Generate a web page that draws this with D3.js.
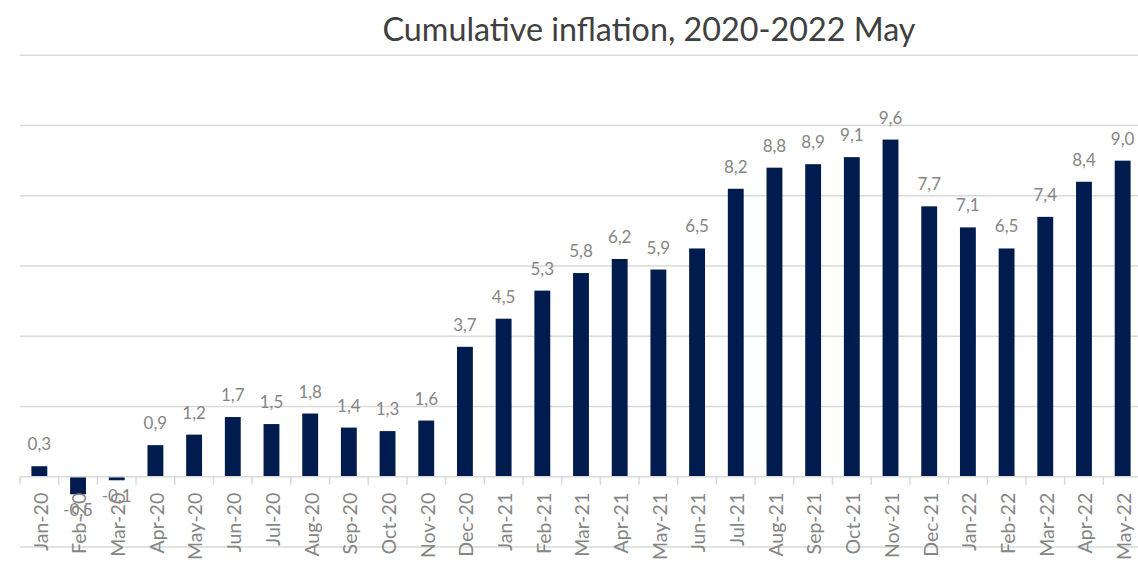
<!DOCTYPE html>
<html>
<head>
<meta charset="utf-8">
<script src="https://cdn.jsdelivr.net/npm/d3@7"></script>
<style>
  html, body { margin: 0; padding: 0; background: #ffffff; }
  svg { display: block; }
  text { font-family: Lato, "Open Sans", sans-serif; }
</style>
</head>
<body>
<svg id="chart" width="1138" height="562"></svg>
<script>
// Monthly categories, Jan 2020 – May 2022
const months = [
  "Jan-20","Feb-20","Mar-20","Apr-20","May-20","Jun-20","Jul-20","Aug-20","Sep-20","Oct-20","Nov-20","Dec-20",
  "Jan-21","Feb-21","Mar-21","Apr-21","May-21","Jun-21","Jul-21","Aug-21","Sep-21","Oct-21","Nov-21","Dec-21",
  "Jan-22","Feb-22","Mar-22","Apr-22","May-22"
];

// Cumulative inflation, %
const inflation = [
  0.3, -0.5, -0.1, 0.9, 1.2, 1.7, 1.5, 1.8, 1.4, 1.3, 1.6, 3.7,
  4.5, 5.3, 5.8, 6.2, 5.9, 6.5, 8.2, 8.8, 8.9, 9.1, 9.6, 7.7,
  7.1, 6.5, 7.4, 8.4, 9.0
];

// Value-axis gridline positions
const yTicks = [-2, 0, 2, 4, 6, 8, 10, 12];

const title = "Cumulative inflation, 2020-2022 May";

const data = months.map((m, i) => ({ month: m, value: inflation[i] }));

const svg = d3.select("#chart");

const x = d3.scaleBand()
  .domain(months)
  .range([20, 1142])
  .paddingInner(0.59)
  .paddingOuter(0.295);

const y = d3.scaleLinear()
  .domain([-2, 12])
  .range([547, 55.3]);

const step = x.step();
const fmt = v => d3.format(".1f")(v).replace(".", ",").replace("−", "-");

// Horizontal gridlines
svg.append("g")
  .selectAll("line")
  .data(yTicks.filter(t => t !== 0))
  .join("line")
  .attr("x1", 20)
  .attr("x2", 1142)
  .attr("y1", d => y(d))
  .attr("y2", d => y(d))
  .attr("stroke", "#d9d9d9")
  .attr("stroke-width", 1.5);

// Bars
svg.append("g")
  .selectAll("rect")
  .data(data)
  .join("rect")
  .attr("x", d => x(d.month))
  .attr("width", x.bandwidth())
  .attr("y", d => y(Math.max(0, d.value)))
  .attr("height", d => Math.abs(y(d.value) - y(0)))
  .attr("fill", "#001b4d");

// Category axis at zero with tick marks between categories
const axisG = svg.append("g");
axisG.append("line")
  .attr("x1", 20).attr("x2", 1142)
  .attr("y1", y(0)).attr("y2", y(0))
  .attr("stroke", "#d9d9d9")
  .attr("stroke-width", 1.5);

const boundaries = months.map(m => x(m) + x.bandwidth() / 2 - step / 2)
  .concat([x(months[months.length - 1]) + x.bandwidth() / 2 + step / 2]);
axisG.selectAll("line.tick")
  .data(boundaries)
  .join("line")
  .attr("class", "tick")
  .attr("x1", d => d).attr("x2", d => d)
  .attr("y1", y(0)).attr("y2", y(0) + 8)
  .attr("stroke", "#d9d9d9")
  .attr("stroke-width", 1.5);

// Rotated month labels
axisG.selectAll("text")
  .data(months)
  .join("text")
  .attr("transform", d => `translate(${x(d) + x.bandwidth() / 2 + 1.5},${y(0) + 16}) rotate(-90)`)
  .attr("text-anchor", "end")
  .attr("dy", "0.35em")
  .attr("fill", "#858585")
  .attr("font-size", 19.5)
  .text(d => d);

// Data labels
svg.append("g")
  .selectAll("text")
  .data(data)
  .join("text")
  .attr("x", d => x(d.month) + x.bandwidth() / 2)
  .attr("y", d => d.value >= 0 ? y(d.value) - 16 : y(d.value) + 22)
  .attr("text-anchor", "middle")
  .attr("fill", "#858585")
  .attr("font-size", 17)
  .text(d => fmt(d.value));

// Title
svg.append("text")
  .attr("x", 649)
  .attr("y", 41)
  .attr("text-anchor", "middle")
  .attr("fill", "#404040")
  .attr("font-size", 32.3)
  .text(title);
</script>
</body>
</html>
